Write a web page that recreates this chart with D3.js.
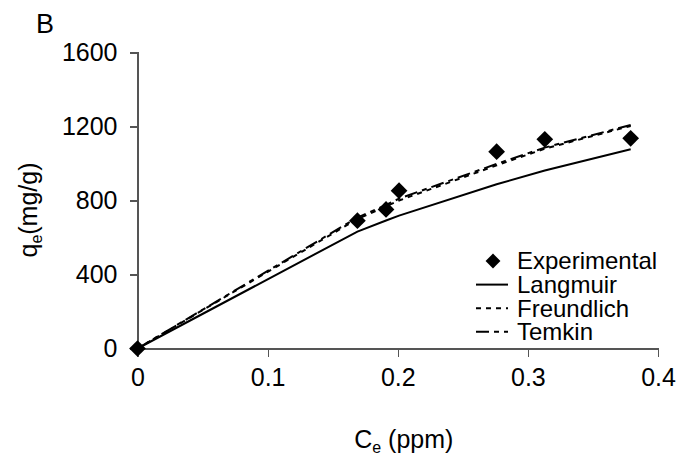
<!DOCTYPE html>
<html lang="en">
<head>
    <meta charset="UTF-8">
    <title>Isotherm fit B</title>
    <script src="https://d3js.org/d3.v7.min.js"></script>
    <style>
        body { margin: 0; background: #fff; font-family: "Liberation Sans", Arial, sans-serif; }
        svg text { fill: #000; }
        .axis path, .axis line { stroke: #555; stroke-width: 1.2px; shape-rendering: crispEdges; }
        .axis text { font-size: 25px; font-family: "Liberation Sans", Arial, sans-serif; }
        .fit { fill: none; stroke: #000; stroke-width: 2px; }
    </style>
</head>
<body>
<svg id="chart" width="682" height="460"></svg>
<script>
    // data
    const ce = [0, 0.169, 0.191, 0.201, 0.276, 0.313, 0.379];
    const experimental = [0, 691, 752, 853, 1064, 1131, 1136];
    const langmuir = [0, 632, 692, 718, 888, 962, 1077];
    const freundlich = [0, 700, 768, 800, 990, 1080, 1203];
    const temkin = [0, 708, 776, 810, 998, 1086, 1208];
    const xTicks = [0, 0.1, 0.2, 0.3, 0.4];
    const yTicks = [0, 400, 800, 1200, 1600];

    const series = [
        { name: "Langmuir", values: langmuir, dash: null },
        { name: "Freundlich", values: freundlich, dash: "5,5" },
        { name: "Temkin", values: temkin, dash: "13,5,5,5" }
    ];

    const svg = d3.select("#chart");
    const margin = { left: 137.5, right: 24, top: 52.5, bottom: 111.5 };
    const width = 682 - margin.left - margin.right,
          height = 460 - margin.top - margin.bottom;

    const x = d3.scaleLinear().domain([0, 0.4]).range([0, width]);
    const y = d3.scaleLinear().domain([0, 1600]).range([height, 0]);

    const g = svg.append("g").attr("transform", `translate(${margin.left},${margin.top})`);

    g.append("g").attr("class", "axis")
        .attr("transform", `translate(0,${height})`)
        .call(d3.axisBottom(x).tickValues(xTicks).tickSize(8).tickSizeOuter(8).tickPadding(12)
            .tickFormat(d => d === 0 ? "0" : d3.format(".1f")(d)));

    g.append("g").attr("class", "axis")
        .call(d3.axisLeft(y).tickValues(yTicks).tickSize(8).tickSizeOuter(8).tickPadding(12)
            .tickFormat(d3.format("d")));

    const line = d3.line().x((d, i) => x(ce[i])).y(d => y(d));

    series.forEach(s => {
        g.append("path")
            .datum(s.values)
            .attr("class", "fit")
            .attr("stroke-dasharray", s.dash)
            .attr("d", line);
    });

    const diamond = d3.symbol().type(d3.symbolSquare).size(140);

    g.selectAll(".pt")
        .data(experimental)
        .join("path")
        .attr("class", "pt")
        .attr("d", diamond)
        .attr("transform", (d, i) => `translate(${x(ce[i])},${y(d)}) rotate(45)`)
        .attr("fill", "#000");

    // legend
    const legend = svg.append("g").attr("transform", "translate(476,261)");
    const rowH = 23.6;
    legend.append("path")
        .attr("d", d3.symbol().type(d3.symbolSquare).size(110))
        .attr("transform", "translate(17,0) rotate(45)")
        .attr("fill", "#000");
    series.forEach((s, i) => {
        legend.append("line")
            .attr("class", "fit")
            .attr("x1", 0).attr("x2", 32)
            .attr("y1", (i + 1) * rowH).attr("y2", (i + 1) * rowH)
            .attr("stroke-dasharray", s.dash);
    });
    ["Experimental"].concat(series.map(s => s.name)).forEach((name, i) => {
        legend.append("text")
            .attr("x", 41)
            .attr("y", i * rowH)
            .attr("dy", "0.35em")
            .style("font-size", "24px")
            .text(name);
    });

    // panel letter
    svg.append("text").attr("x", 36).attr("y", 33).style("font-size", "27px").text("B");

    // axis titles
    const xt = svg.append("text")
        .attr("x", margin.left + width / 2 + 6)
        .attr("y", 448)
        .attr("text-anchor", "middle")
        .style("font-size", "25px");
    xt.append("tspan").text("C");
    xt.append("tspan").attr("dy", 5).style("font-size", "16px").text("e");
    xt.append("tspan").attr("dy", -5).text(" (ppm)");

    const yt = svg.append("text")
        .attr("transform", "translate(37,210) rotate(-90)")
        .attr("text-anchor", "middle")
        .style("font-size", "25px");
    yt.append("tspan").text("q");
    yt.append("tspan").attr("dy", 5).style("font-size", "16px").text("e");
    yt.append("tspan").attr("dy", -5).text("(mg/g)");
</script>
</body>
</html>
